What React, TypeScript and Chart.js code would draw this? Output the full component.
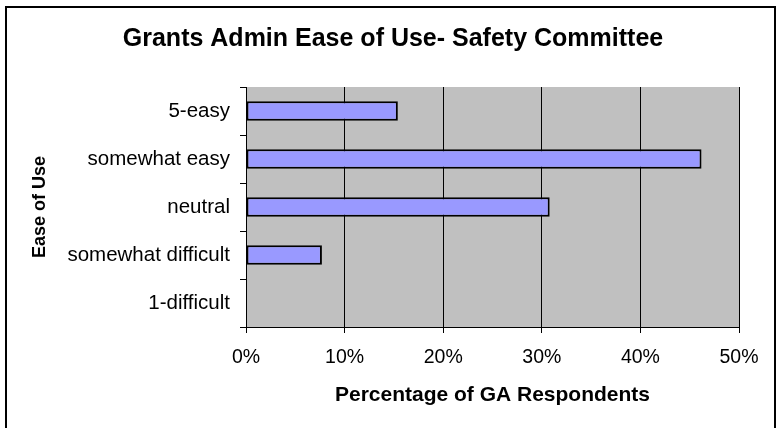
import React, { useEffect, useRef } from "react";
import { Chart, registerables } from "chart.js";

Chart.register(...registerables);

const categories = ["5-easy", "somewhat easy", "neutral", "somewhat difficult", "1-difficult"];
const percentages = [15.4, 46.2, 30.8, 7.7, 0];
const xTickValues = [0, 10, 20, 30, 40, 50];

const chartTitle = "Grants Admin Ease of Use- Safety Committee";
const xTitle = "Percentage of GA Respondents";
const yTitle = "Ease of Use";

const FONT = "'Liberation Sans', Arial, sans-serif";

const framePlugin = {
  id: "frame",
  beforeDraw(chart: any) {
    const { ctx, chartArea, width, height } = chart;
    ctx.save();
    ctx.fillStyle = "#ffffff";
    ctx.fillRect(0, 0, width, height);
    ctx.fillStyle = "#C0C0C0";
    ctx.fillRect(chartArea.left, chartArea.top, chartArea.right - chartArea.left, chartArea.bottom - chartArea.top);
    ctx.restore();
  },
  afterDraw(chart: any) {
    const { ctx } = chart;
    ctx.save();
    ctx.strokeStyle = "#000000";
    ctx.lineWidth = 2;
    ctx.strokeRect(6, 7, 769, 430);
    ctx.fillStyle = "#000000";
    ctx.font = `bold 25px ${FONT}`;
    ctx.textAlign = "center";
    ctx.textBaseline = "alphabetic";
    ctx.fillText(chartTitle, 393, 46);
    ctx.restore();
  },
};

export default function App() {
  const ref = useRef<HTMLCanvasElement | null>(null);

  useEffect(() => {
    if (!ref.current) return;
    const chart = new Chart(ref.current, {
      type: "bar",
      data: {
        labels: categories,
        datasets: [
          {
            data: percentages,
            backgroundColor: "#9999FF",
            borderColor: "#000000",
            borderWidth: (c: any) => (c.raw === 0 ? 0 : 2),
            borderSkipped: false,
            barPercentage: 0.41,
            categoryPercentage: 1,
          },
        ],
      },
      options: {
        indexAxis: "y",
        animation: false,
        responsive: false,
        devicePixelRatio: 1,
        layout: { padding: { left: 10, right: 40, top: 87, bottom: 20 } },
        plugins: {
          legend: { display: false },
          tooltip: { enabled: false },
          title: { display: false },
        },
        scales: {
          x: {
            type: "linear",
            min: 0,
            max: 50,
            afterFit: (s: any) => {
              s.height = 81;
            },
            afterBuildTicks: (s: any) => {
              s.ticks = xTickValues.map((v) => ({ value: v }));
            },
            ticks: {
              color: "#000000",
              font: { family: FONT, size: 19.5 },
              padding: 13,
              maxRotation: 0,
              callback: (v: any) => v + "%",
            },
            grid: {
              color: "#000000",
              lineWidth: 1,
              tickLength: 6,
              drawOnChartArea: true,
              drawTicks: true,
            },
            border: { display: true, color: "#000000", width: 1 },
            title: {
              display: true,
              text: xTitle,
              color: "#000000",
              font: { family: FONT, size: 21, weight: "bold", lineHeight: 1.2 },
              padding: { top: 0, bottom: 0 },
            },
          },
          y: {
            type: "category",
            afterFit: (s: any) => {
              s.width = 236;
            },
            ticks: {
              color: "#000000",
              font: { family: FONT, size: 20.5 },
              padding: 10,
            },
            grid: {
              offset: true,
              color: "#000000",
              lineWidth: 1,
              tickLength: 6,
              drawOnChartArea: false,
              drawTicks: true,
            },
            border: { display: true, color: "#000000", width: 1 },
            title: {
              display: true,
              text: yTitle,
              color: "#000000",
              font: { family: FONT, size: 18, weight: "bold", lineHeight: 1.2 },
              padding: { top: 19, bottom: 0 },
            },
          },
        },
      },
      plugins: [framePlugin],
    } as any);
    return () => chart.destroy();
  }, []);

  return (
    <div style={{ position: "absolute", left: 0, top: 0, width: 779, height: 428 }}>
      <canvas ref={ref} width={779} height={428} style={{ display: "block", width: 779, height: 428 }} />
    </div>
  );
}
